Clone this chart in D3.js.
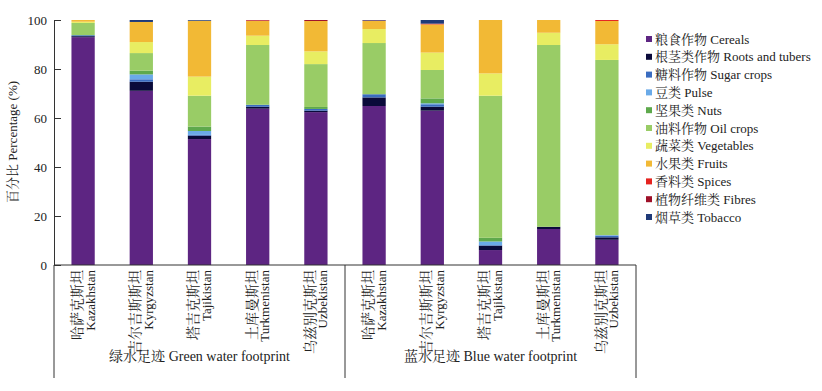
<!DOCTYPE html>
<html><head><meta charset="utf-8">
<script src="https://cdn.jsdelivr.net/npm/d3@7"></script>
<style>body{margin:0;background:#fff}svg{display:block}text{font-family:"Liberation Serif","Times New Roman",serif;fill:#222}
.cn{font-family:"Noto Serif CJK SC","Noto Sans CJK SC",serif}.en{font-family:"Liberation Serif","Times New Roman",serif}</style>
</head><body><svg id="c" width="822" height="391"></svg>
<script>
const countriesCN = ["哈萨克斯坦","吉尔吉斯斯坦","塔吉克斯坦","土库曼斯坦","乌兹别克斯坦"];
const countriesEN = ["Kazakhstan","Kyrgyzstan","Tajikistan","Turkmenistan","Uzbekistan"];
const groupsCN = ["绿水足迹","蓝水足迹"];
const groupsEN = ["Green water footprint","Blue water footprint"];
const seriesCN = ["粮食作物","根茎类作物","糖料作物","豆类","坚果类","油料作物","蔬菜类","水果类","香料类","植物纤维类","烟草类"];
const seriesEN = ["Cereals","Roots and tubers","Sugar crops","Pulse","Nuts","Oil crops","Vegetables","Fruits","Spices","Fibres","Tobacco"];
const colors = ["#5d2582","#0a0a3a","#3a6cc0","#6aaae8","#5ea94c","#99cc66","#e8ed62","#f2b935","#e5231f","#9e1028","#1f3a78"];
// values per bar: green KAZ,KGZ,TJK,TKM,UZB, blue KAZ,KGZ,TJK,TKM,UZB
const cereals = [93.0,71.1,51.4,63.8,62.4, 64.9,63.0,6.1,14.7,10.3];
const roots   = [0.4,3.7,1.4,0.8,0.6, 3.5,1.6,1.8,0.9,1.0];
const sugar   = [0.4,1.0,0.3,0.7,0.7, 1.3,1.0,0.2,0.0,0.7];
const pulse   = [0.0,2.0,1.6,0.0,0.0, 0.0,0.4,1.5,0.0,0.2];
const nuts    = [0.0,1.5,1.8,0.2,0.8, 0.0,2.0,1.5,0.0,0.0];
const oil     = [5.0,7.2,12.6,24.3,17.5, 20.9,11.6,58.0,74.2,71.5];
const veg     = [0.5,4.5,7.8,3.8,5.2, 5.7,7.1,9.1,5.0,6.4];
const fruits  = [0.7,8.2,22.8,6.0,12.4, 3.3,11.5,21.8,5.2,9.5];
const spices  = [0.0,0.0,0.0,0.2,0.0, 0.0,0.3,0.0,0.0,0.4];
const fibres  = [0.0,0.0,0.0,0.2,0.4, 0.2,0.0,0.0,0.0,0.0];
const tobacco = [0.0,0.8,0.3,0.0,0.0, 0.2,1.5,0.0,0.0,0.0];
const yTicks = [0,20,40,60,80,100];

const seriesVals = [cereals,roots,sugar,pulse,nuts,oil,veg,fruits,spices,fibres,tobacco];
const keys = seriesEN;
const bars = [];
for (let g=0; g<2; g++) for (let c=0; c<5; c++) {
  const i = g*5+c;
  const row = {id: i, cn: countriesCN[c], en: countriesEN[c]};
  keys.forEach((k,j)=> row[k] = seriesVals[j][i]);
  bars.push(row);
}
const svg = d3.select("#c");
const L=54, R=636, T=20, B=265;
const x = d3.scaleBand().domain(bars.map(d=>d.id)).range([L,R]).paddingInner(0.6).paddingOuter(0.3);
const y = d3.scaleLinear().domain([0,100]).range([B,T]);
const stack = d3.stack().keys(keys)(bars);

svg.append("g").selectAll("g").data(stack).join("g")
  .attr("fill",(d,i)=>colors[i])
  .selectAll("rect").data(d=>d).join("rect")
  .attr("x",d=>x(d.data.id)).attr("width",x.bandwidth())
  .attr("y",d=>y(d[1])).attr("height",d=>Math.max(0,y(d[0])-y(d[1])));

// y axis
const ya = svg.append("g").attr("transform",`translate(${L},0)`)
  .call(d3.axisLeft(y).tickValues(yTicks).tickSize(-7).tickPadding(5));
ya.select(".domain").attr("stroke","#333");
ya.selectAll(".tick line").attr("stroke","#333");
ya.selectAll("text").attr("class","en").attr("font-size",13).attr("fill","#222").attr("dx",-2);
// x axis line
svg.append("line").attr("x1",L).attr("x2",R).attr("y1",B).attr("y2",B).attr("stroke","#333");
// separators
[L,(L+R)/2,R].forEach(xx=>svg.append("line").attr("x1",xx).attr("x2",xx).attr("y1",B).attr("y2",378).attr("stroke","#333"));

// x labels
const xg = svg.append("g").selectAll("g").data(bars).join("g")
  .attr("transform",d=>`translate(${x(d.id)+x.bandwidth()/2},270) rotate(-90)`);
xg.append("text").attr("class","cn").attr("text-anchor","end").attr("y",-6).attr("dy","0.35em")
  .attr("font-size",14).text(d=>d.cn);
xg.append("text").attr("class","en").attr("text-anchor","end").attr("y",7).attr("dy","0.35em")
  .attr("font-size",13).text(d=>d.en);

// group labels
groupsCN.forEach((g,i)=>{
  const t = svg.append("text").attr("x",L+(R-L)/4*(1+2*i)).attr("y",361)
    .attr("text-anchor","middle").attr("font-size",14);
  t.append("tspan").attr("class","cn").text(g+" ");
  t.append("tspan").attr("class","en").text(groupsEN[i]);
});

// y title
const yt = svg.append("text").attr("transform","translate(17,142) rotate(-90)")
  .attr("text-anchor","middle").attr("font-size",13);
yt.append("tspan").attr("class","cn").text("百分比 ");
yt.append("tspan").attr("class","en").text("Percentage (%)");

// legend
const lg = svg.append("g").selectAll("g").data(keys).join("g")
  .attr("transform",(d,i)=>`translate(646,${39+i*17.8})`);
lg.append("rect").attr("x",0).attr("y",-3).attr("width",6).attr("height",6).attr("fill",(d,i)=>colors[i]);
const lt = lg.append("text").attr("x",9).attr("dy","0.35em").attr("font-size",13);
lt.append("tspan").attr("class","cn").text((d,i)=>seriesCN[i]+" ");
lt.append("tspan").attr("class","en").text(d=>d);
</script></body></html>
